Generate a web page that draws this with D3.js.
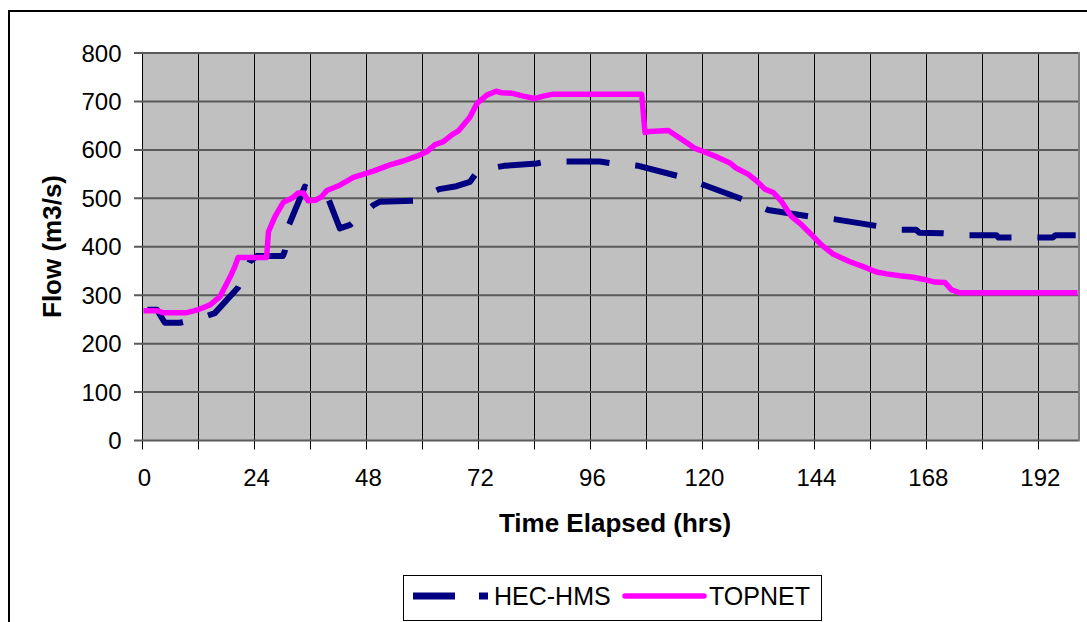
<!DOCTYPE html>
<html>
<head>
<meta charset="utf-8">
<script src="https://cdn.jsdelivr.net/npm/d3@7"></script>
<style>
	body { margin: 0; background: #fff; }
	text { font-family: "Liberation Sans", Arial, sans-serif; fill: #000; }
</style>
</head>
<body>
<script>
// Values (hours elapsed, flow in m3/s)
var hecHours = [0.3, 3.2, 4.9, 8.1, 13.5, 15.6, 20.6, 23.1, 24.6, 30.2, 30.6, 31.4,
	34.9, 39.9, 42.4, 44.6, 49.6, 51.0, 58.5, 63.7, 67.4, 70.3, 72.1, 77.6,
	84.6, 86.7, 98.1, 100.9, 106.4, 114.9, 120.3, 129.0, 134.2, 143.3, 148.3, 157.4,
	162.6, 165.9, 166.6, 171.5, 176.7, 183.1, 183.6, 185.8, 191.0, 195.2, 195.8, 200.1];
var hecFlow = [270, 270, 243, 243, 256, 263, 316, 369, 381, 381, 391, 443,
	524, 500, 438, 445, 486, 493, 495, 519, 525, 534, 558, 567,
	572, 576, 576, 572, 567, 546, 528, 497, 476, 462, 457, 443,
	435, 435, 429, 428, 424, 424, 419, 419, 419, 419, 424, 424];

var topHours = [0.3, 3.1, 4.5, 9.6, 11.7, 14.6, 16.7, 18.9, 19.9, 20.6, 26.7, 27.1, 28.5, 30.3, 32.1, 33.5,
	34.6, 35.6, 37.1, 38.5, 39.6, 42.4, 45.3, 49.6, 53.1, 56, 58.9, 61, 62.8, 64.6, 66.4, 67.8,
	70.3, 71.8, 73.9, 75.9, 77.1, 79.2, 81.7, 84.2, 86, 88.1, 107.1, 107.8, 108.8, 112.8, 115.3, 117,
	118.5, 121, 123.1, 126, 127.4, 129.9, 131.7, 133.5, 135.3, 137.1, 139.2, 141.4, 143.8, 145.6, 148.1, 151.7,
	154.6, 157.4, 159.6, 162.4, 165.3, 167.4, 169.9, 172.1, 173.5, 175.3, 200.5];
var topFlow = [268, 268, 264, 264, 269, 280, 297, 338, 359, 378, 378, 431, 462, 492, 500, 511,
	511, 495, 496, 503, 516, 527, 543, 556, 569, 577, 587, 596, 611, 617, 631, 639,
	668, 696, 713, 721, 718, 717, 711, 706, 711, 715, 715, 636, 638, 640, 624, 613,
	603, 594, 586, 573, 562, 550, 536, 519, 512, 493, 462, 445, 422, 404, 385, 369,
	359, 348, 344, 340, 337, 333, 327, 326, 311, 305, 305];

var xTickLabels = [0, 24, 48, 72, 96, 120, 144, 168, 192];
var yTickValues = [0, 100, 200, 300, 400, 500, 600, 700, 800];
var seriesNames = ["HEC-HMS", "TOPNET"];

// Plot area bounds
var width = 1087, height = 622;
var plot = {left: 142, top: 53, right: 1078, bottom: 440.5};

var svg = d3.select("body")
	.append("svg")
	.attr("width", width)
	.attr("height", height);

var xScale = d3.scaleLinear()
	.domain([0, 200.6])
	.range([plot.left, plot.right]);

var yScale = d3.scaleLinear()
	.domain([0, 800])
	.range([plot.bottom, plot.top]);

// outer chart frame (runs off the right and bottom of the picture)
svg.append("rect")
	.attr("x", 9).attr("y", 11)
	.attr("width", 2000).attr("height", 2000)
	.attr("fill", "none")
	.attr("stroke", "#000")
	.attr("stroke-width", 2);

// grey plot background
svg.append("rect")
	.attr("x", plot.left).attr("y", plot.top)
	.attr("width", plot.right - plot.left)
	.attr("height", plot.bottom - plot.top)
	.attr("fill", "#c0c0c0");

// vertical gridlines every 12 hrs (they run on as the x tick marks)
var vLines = d3.range(0, 200, 12);
svg.append("g")
	.selectAll("line")
	.data(vLines)
	.enter()
	.append("line")
	.attr("x1", function(d) { return Math.round(xScale(d)) + 0.5; })
	.attr("x2", function(d) { return Math.round(xScale(d)) + 0.5; })
	.attr("y1", plot.top)
	.attr("y2", plot.bottom + 9)
	.attr("stroke", "#000")
	.attr("stroke-width", 1);

// horizontal gridlines + y tick marks
svg.append("g")
	.selectAll("line")
	.data(yTickValues)
	.enter()
	.append("line")
	.attr("x1", plot.left - 8)
	.attr("x2", plot.right)
	.attr("y1", function(d) { return yScale(d); })
	.attr("y2", function(d) { return yScale(d); })
	.attr("stroke", "#5a5a5a")
	.attr("stroke-width", 2);

// plot border on the right
svg.append("line")
	.attr("x1", plot.right + 1).attr("x2", plot.right + 1)
	.attr("y1", plot.top - 1).attr("y2", plot.bottom + 1)
	.attr("stroke", "#808080")
	.attr("stroke-width", 2);

// y tick labels
svg.append("g")
	.selectAll("text")
	.data(yTickValues)
	.enter()
	.append("text")
	.attr("x", 121.5)
	.attr("y", function(d) { return yScale(d) + 8.6; })
	.attr("text-anchor", "end")
	.style("font-size", "24px")
	.text(function(d) { return d; });

// x tick labels
svg.append("g")
	.selectAll("text")
	.data(xTickLabels)
	.enter()
	.append("text")
	.attr("x", function(d) { return xScale(d) + 2.5; })
	.attr("y", 486)
	.attr("text-anchor", "middle")
	.style("font-size", "24px")
	.text(function(d) { return d; });

// axis titles
svg.append("text")
	.attr("x", 615)
	.attr("y", 532)
	.attr("text-anchor", "middle")
	.style("font-size", "26px")
	.style("font-weight", "bold")
	.text("Time Elapsed (hrs)");

svg.append("text")
	.attr("transform", "translate(61,246.5) rotate(-90)")
	.attr("text-anchor", "middle")
	.style("font-size", "26px")
	.style("font-weight", "bold")
	.text("Flow (m3/s)");

// the two series
var line = d3.line()
	.x(function(d) { return xScale(d[0]); })
	.y(function(d) { return yScale(d[1]); });

var hecData = d3.zip(hecHours, hecFlow);
var topData = d3.zip(topHours, topFlow);

svg.append("path")
	.datum(hecData)
	.attr("d", line)
	.attr("fill", "none")
	.attr("stroke", "#000080")
	.attr("stroke-width", 6)
	.attr("stroke-dasharray", "43 25.9")
	.attr("stroke-dashoffset", 64.9)
	.attr("stroke-linejoin", "round");

svg.append("path")
	.datum(topData)
	.attr("d", line)
	.attr("fill", "none")
	.attr("stroke", "#ff00ff")
	.attr("stroke-width", 5.5)
	.attr("stroke-linejoin", "round");

// legend
var legend = svg.append("g");
legend.append("rect")
	.attr("x", 403.5).attr("y", 575.5)
	.attr("width", 418).attr("height", 45)
	.attr("fill", "#fff")
	.attr("stroke", "#000")
	.attr("stroke-width", 1);

legend.append("line")
	.attr("x1", 413).attr("x2", 488)
	.attr("y1", 596).attr("y2", 596)
	.attr("stroke", "#000080")
	.attr("stroke-width", 7)
	.attr("stroke-dasharray", "42 24");

legend.append("line")
	.attr("x1", 625).attr("x2", 704)
	.attr("y1", 596).attr("y2", 596)
	.attr("stroke", "#ff00ff")
	.attr("stroke-width", 5.5)
	.attr("stroke-linecap", "round");

legend.append("text")
	.attr("x", 494).attr("y", 605)
	.style("font-size", "25px")
	.text(seriesNames[0]);

legend.append("text")
	.attr("x", 709).attr("y", 605)
	.style("font-size", "25px")
	.text(seriesNames[1]);
</script>
</body>
</html>
